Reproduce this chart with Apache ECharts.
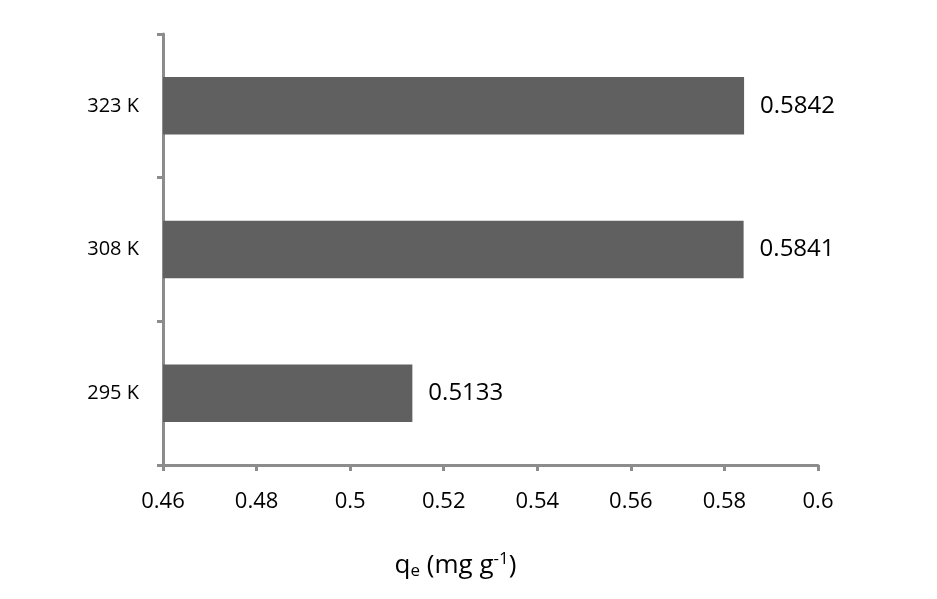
<!DOCTYPE html>
<html><head><meta charset="utf-8">
<script src="https://cdn.jsdelivr.net/npm/echarts@6/dist/echarts.min.js"></script>
<style>html,body{margin:0;padding:0;background:#fff}#c{width:937px;height:599px}</style>
</head><body><div id="c"></div>
<script>
const categories = ['295 K', '308 K', '323 K'];
const qeValues = [0.5133, 0.5841, 0.5842];
const xTicks = [0.46, 0.48, 0.5, 0.52, 0.54, 0.56, 0.58, 0.6];

const chart = echarts.init(document.getElementById('c'));
const axisColor = '#8c8c8c';
chart.setOption({
  animation: false,
  grid: {left: 163, right: 119, top: 34, bottom: 134},
  xAxis: {
    type: 'value',
    min: xTicks[0], max: xTicks[xTicks.length - 1], interval: 0.02,
    axisLine: {show: true, lineStyle: {color: axisColor, width: 3}},
    axisTick: {show: true, length: 6, lineStyle: {color: axisColor, width: 3}},
    splitLine: {show: false},
    axisLabel: {
      margin: 26, color: '#000', fontSize: 22, fontFamily: 'Open Sans',
      formatter: v => String(+v.toFixed(2))
    },
    name: '{q|q}{sub|e}{q| (mg g}{sup|-1}{q|)}',
    nameLocation: 'middle', nameGap: 86,
    nameTextStyle: {
      padding: [0, 70, 0, 0],
      rich: {
        q: {fontSize: 26, color: '#000', fontFamily: 'Open Sans'},
        sub: {fontSize: 17, color: '#000', fontFamily: 'Open Sans', verticalAlign: 'bottom', padding: [10, 0, 0, 0]},
        sup: {fontSize: 17, color: '#000', fontFamily: 'Open Sans', padding: [0, 0, 12, 0]}
      }
    }
  },
  yAxis: {
    type: 'category', data: categories,
    axisLine: {show: true, lineStyle: {color: axisColor, width: 3}},
    axisTick: {show: true, length: 6, lineStyle: {color: axisColor, width: 3}},
    axisLabel: {margin: 24, color: '#000', fontSize: 20, fontFamily: 'Open Sans'}
  },
  series: [{
    type: 'bar', data: qeValues, barCategoryGap: '60%',
    itemStyle: {color: '#606060'},
    label: {
      show: true, position: 'right', distance: 16, color: '#000',
      fontSize: 24, fontFamily: 'Open Sans',
      formatter: p => p.value.toFixed(4)
    }
  }]
});
</script></body></html>
